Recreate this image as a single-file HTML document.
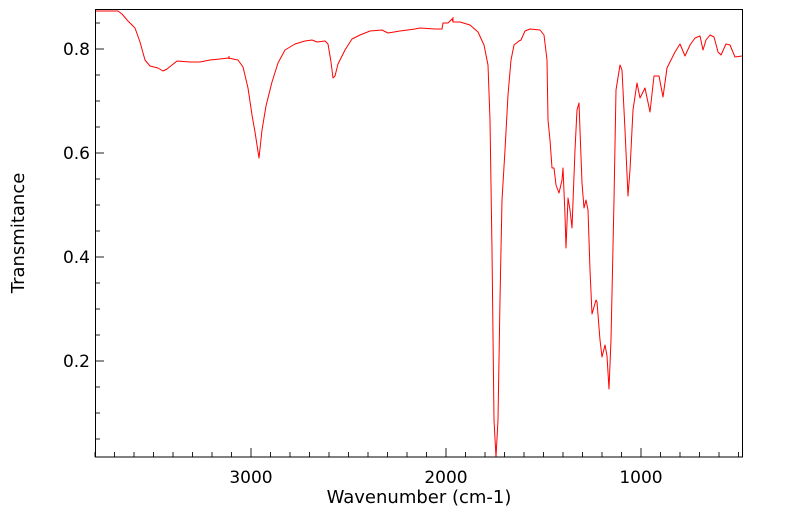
<!DOCTYPE html>
<html><head><style>body{margin:0;background:#fff}</style></head><body>
<svg width="799" height="516" xmlns="http://www.w3.org/2000/svg" font-family="DejaVu Sans, Liberation Sans, sans-serif">
<rect width="799" height="516" fill="#fff"/>
<g id="ticks" stroke="#222" stroke-width="1"></g>
<polyline fill="none" stroke="#ff0000" stroke-width="1" stroke-linejoin="round" points="95,11 118,11 122,14 128,21 135,28 140,42 145,60 150,66 158,68 163,71 167,69 172,65 177,61 190,62 200,62 210,60 220,59 228,58 238,60 243,67 248,88 252,115 255,132 259,158 262,130 266,106 272,82 278,63 285,50 295,44 305,41 312,40 317,42 325,41 328,44 331,62 333,78 335,76 338,64 345,50 352,39 360,35 370,31 382,30 386,32 388,33 400,31 415,29 420,28 435,29 442,29 443,23 448,23 452,19 453,22 460,22 470,25 478,32 484,45 488,65 490,120 492,250 494,420 496,457 498,420 500,300 502,200 505,150 508,95 511,60 514,45 519,41 521,40 525,31 530,29 540,30 544,35 547,60 548,120 550,140 552,168 554,168 556,185 559,193 562,180 563,168 565,215 566,248 568,198 570,210 572,228 575,150 577,110 579,103 580,130 582,183 584,208 586,200 588,210 590,270 592,314 596,300 597,302 600,340 602,357 605,345 607,356 609,389 611,340 614,200 616,90 620,65 622,70 625,130 628,196 630,170 633,110 637,83 640,98 645,88 650,112 654,76 659,76 663,97 667,68 675,52 680,44 685,56 690,45 695,38 700,36 703,50 706,40 710,35 714,37 718,52 721,55 726,44 730,45 735,57 742,56"/>
<path d="M229,56v3M453,17v4" stroke="#f00" stroke-width="1"/>
<rect x="95.5" y="9.5" width="647" height="447.5" fill="none" stroke="#000" stroke-width="1"/>
<g font-size="17" fill="#000">
<text x="90" y="55" text-anchor="end">0.8</text>
<text x="90" y="159" text-anchor="end">0.6</text>
<text x="90" y="263" text-anchor="end">0.4</text>
<text x="90" y="367" text-anchor="end">0.2</text>
<text x="251" y="483" text-anchor="middle">3000</text>
<text x="446" y="483" text-anchor="middle">2000</text>
<text x="641" y="483" text-anchor="middle">1000</text>
<text x="419" y="503" text-anchor="middle" font-size="18">Wavenumber (cm-1)</text>
<text transform="translate(24,233) rotate(-90)" text-anchor="middle" font-size="18">Transmitance</text>
</g>
<script>
var g=document.getElementById('ticks'),d='';
for(var w=3800;w>=490;w-=100){var x=95+(3800-w)*0.195;var L=(w%1000==0)?9:5;d+='M'+x.toFixed(1)+',457v-'+L;}
for(var v=0.05;v<0.88;v+=0.05){var y=49+(0.8-v)*520;var L=(Math.round(v*100)%20==0)?9:5;d+='M95,'+y.toFixed(1)+'h'+L;}
var p=document.createElementNS('http://www.w3.org/2000/svg','path');p.setAttribute('d',d);g.appendChild(p);
</script>
</svg>
</body></html>
